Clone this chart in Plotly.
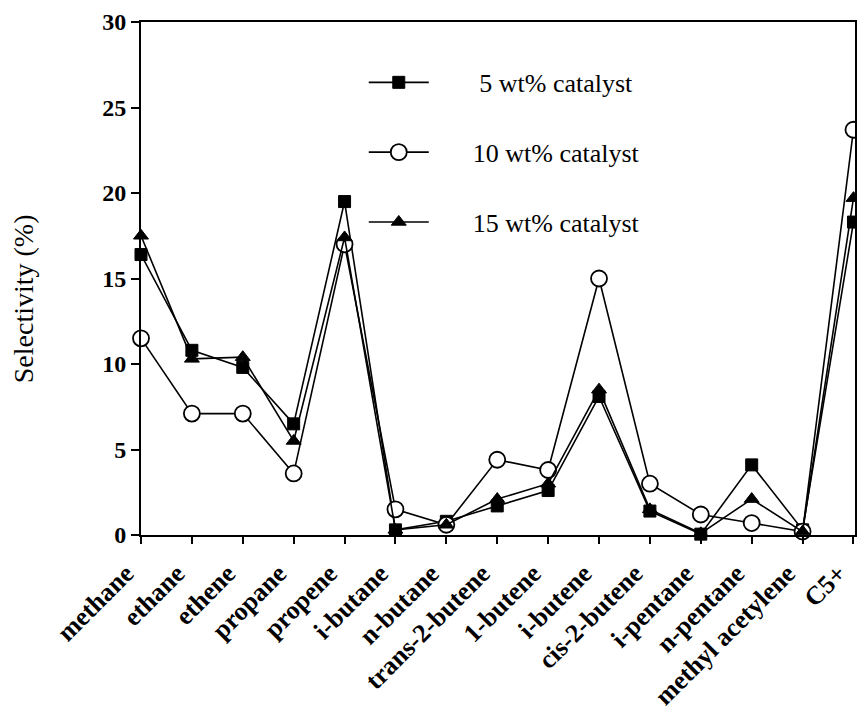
import plotly.graph_objects as go

categories = ["methane", "ethane", "ethene", "propane", "propene", "i-butane", "n-butane",
              "trans-2-butene", "1-butene", "i-butene", "cis-2-butene", "i-pentane",
              "n-pentane", "methyl acetylene", "C5+"]

cat5 = [16.4, 10.8, 9.8, 6.5, 19.5, 0.3, 0.8, 1.7, 2.6, 8.1, 1.4, 0.05, 4.1, 0.3, 18.3]
cat10 = [11.5, 7.1, 7.1, 3.6, 17.0, 1.5, 0.6, 4.4, 3.8, 15.0, 3.0, 1.2, 0.7, 0.2, 23.7]
cat15 = [17.5, 10.3, 10.4, 5.5, 17.4, 0.3, 0.6, 2.1, 3.0, 8.5, 1.5, 0.1, 2.1, 0.2, 19.7]

series_names = ["5 wt% catalyst", "10 wt% catalyst", "15 wt% catalyst"]
yticks = [0, 5, 10, 15, 20, 25, 30]

FONT = "Liberation Serif"
NB = "\u00a0"

fig = go.Figure()
styles = [
    dict(symbol="square", color="black", size=12, line=dict(color="black", width=1)),
    dict(symbol="circle", color="white", size=16, line=dict(color="black", width=1.8)),
    dict(symbol="triangle-up", color="black", size=13, line=dict(color="black", width=1)),
]
pads = [NB * 7, NB * 6, NB * 6]
for i, (name, vals) in enumerate(zip(series_names, [cat5, cat10, cat15])):
    fig.add_trace(go.Scatter(
        x=categories, y=vals, name=pads[i] + name, mode="lines+markers",
        line=dict(color="black", width=1.6),
        marker=styles[i], cliponaxis=False, legendgroup=f"g{i}",
    ))

fig.update_layout(
    width=857, height=714,
    margin=dict(l=141, r=2, t=22, b=179),
    paper_bgcolor="white", plot_bgcolor="white",
    font=dict(family=FONT, color="black"),
    showlegend=True,
    legend=dict(
        x=0.312, y=0.928, xanchor="left", yanchor="top",
        bgcolor="rgba(0,0,0,0)", font=dict(family=FONT, size=26, color="black"),
        tracegroupgap=33, itemwidth=60,
    ),
    annotations=[dict(
        text="Selectivity (%)", xref="paper", yref="paper",
        x=-0.165, y=0.46, xanchor="center", yanchor="middle",
        textangle=-90, showarrow=False,
        font=dict(family=FONT, size=28, color="black"),
    )],
)
fig.update_xaxes(
    type="category", range=[0, 14.03], automargin=False,
    showline=True, linecolor="black", linewidth=2, mirror=True,
    ticks="outside", ticklen=7, tickwidth=1.5, tickcolor="black",
    tickangle=-45, showgrid=False, zeroline=False,
    ticklabelshift=-15, ticklabelstandoff=4,
    tickfont=dict(family=FONT, size=26, color="black", weight="bold"),
)
fig.update_yaxes(
    range=[0, 30], tickvals=yticks, automargin=False,
    showline=True, linecolor="black", linewidth=2, mirror=True,
    ticks="outside", ticklen=8, tickwidth=1.5, tickcolor="black",
    showgrid=False, zeroline=False,
    tickfont=dict(family=FONT, size=24, color="black", weight="bold"),
)

fig.write_html("out.html")
